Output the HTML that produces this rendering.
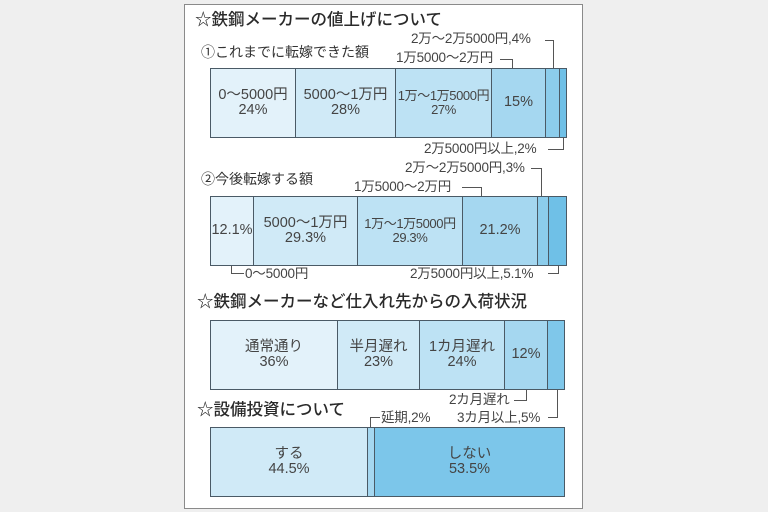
<!DOCTYPE html>
<html><head><meta charset="utf-8"><style>
body{margin:0;width:768px;height:512px;background:#efefef;position:relative;overflow:hidden;font-family:"Liberation Sans","Noto Sans CJK JP",sans-serif;color:#333}
.panel{position:absolute;left:184px;top:4px;width:397px;height:503px;background:#fff;border:1px solid #8a8a8a}
.t{position:absolute;white-space:nowrap;line-height:1}
.h{font-size:16.5px;color:#2a2a2a;font-weight:500}
.s{font-size:14px;color:#333}
.l{font-size:13.5px;color:#444;letter-spacing:-0.2px}
.seg{position:absolute;border:1px solid #4a5a66;box-sizing:border-box;display:flex;align-items:center;justify-content:center;text-align:center;font-size:14.5px;line-height:1.05;color:#444}
.ln{position:absolute;background:#555}
</style></head><body>
<div class="panel"></div>

<div class="t h" style="left:195px;top:12px">☆鉄鋼メーカーの値上げについて</div>
<div class="t s" style="left:201px;top:45px">①これまでに転嫁できた額</div>
<div class="t l" style="left:411px;top:32px">2万～2万5000円,4%</div>
<div class="t l" style="left:396px;top:51px">1万5000～2万円</div>
<div class="ln" style="left:545px;top:40px;width:8px;height:1px"></div>
<div class="ln" style="left:553px;top:40px;width:1px;height:28px"></div>
<div class="ln" style="left:500px;top:59px;width:12px;height:1px"></div>
<div class="ln" style="left:512px;top:59px;width:1px;height:9px"></div>

<div class="seg" style="left:210px;top:68px;width:86px;height:70px;background:#e3f2fa">0～5000円<br>24%</div>
<div class="seg" style="left:295px;top:68px;width:101px;height:70px;background:#d0eaf7">5000～1万円<br>28%</div>
<div class="seg" style="left:395px;top:68px;width:97px;height:70px;background:#bde2f4;font-size:13px;letter-spacing:-0.4px">1万～1万5000円<br>27%</div>
<div class="seg" style="left:491px;top:68px;width:55px;height:70px;background:#a5d7f0">15%</div>
<div class="seg" style="left:545px;top:68px;width:15px;height:70px;background:#8ccdec"></div>
<div class="seg" style="left:559px;top:68px;width:8px;height:70px;background:#6fc0e7"></div>
<div class="t l" style="left:424px;top:142px">2万5000円以上,2%</div>
<div class="ln" style="left:548px;top:149px;width:16px;height:1px"></div>
<div class="ln" style="left:563px;top:138px;width:1px;height:12px"></div>

<div class="t s" style="left:201px;top:172px">②今後転嫁する額</div>
<div class="t l" style="left:405px;top:161px">2万～2万5000円,3%</div>
<div class="t l" style="left:354px;top:180px">1万5000～2万円</div>
<div class="ln" style="left:531px;top:168px;width:10px;height:1px"></div>
<div class="ln" style="left:541px;top:168px;width:1px;height:28px"></div>
<div class="ln" style="left:462px;top:187px;width:20px;height:1px"></div>
<div class="ln" style="left:481px;top:187px;width:1px;height:9px"></div>

<div class="seg" style="left:210px;top:196px;width:44px;height:70px;background:#e3f2fa">12.1%</div>
<div class="seg" style="left:253px;top:196px;width:105px;height:70px;background:#d0eaf7">5000～1万円<br>29.3%</div>
<div class="seg" style="left:357px;top:196px;width:106px;height:70px;background:#bde2f4;font-size:13px;letter-spacing:-0.4px">1万～1万5000円<br>29.3%</div>
<div class="seg" style="left:462px;top:196px;width:76px;height:70px;background:#a5d7f0">21.2%</div>
<div class="seg" style="left:537px;top:196px;width:12px;height:70px;background:#8ccdec"></div>
<div class="seg" style="left:548px;top:196px;width:19px;height:70px;background:#6fc0e7"></div>
<div class="t l" style="left:245px;top:267px">0～5000円</div>
<div class="ln" style="left:231px;top:266px;width:1px;height:8px"></div>
<div class="ln" style="left:231px;top:273px;width:13px;height:1px"></div>
<div class="t l" style="left:410px;top:267px">2万5000円以上,5.1%</div>
<div class="ln" style="left:548px;top:273px;width:11px;height:1px"></div>
<div class="ln" style="left:558px;top:266px;width:1px;height:8px"></div>

<div class="t h" style="left:197px;top:294px">☆鉄鋼メーカーなど仕入れ先からの入荷状況</div>
<div class="seg" style="left:210px;top:320px;width:128px;height:70px;background:#e3f2fa">通常通り<br>36%</div>
<div class="seg" style="left:337px;top:320px;width:83px;height:70px;background:#d0eaf7">半月遅れ<br>23%</div>
<div class="seg" style="left:419px;top:320px;width:86px;height:70px;background:#bde2f4">1カ月遅れ<br>24%</div>
<div class="seg" style="left:504px;top:320px;width:44px;height:70px;background:#a5d7f0">12%</div>
<div class="seg" style="left:547px;top:320px;width:18px;height:70px;background:#7fc7ea"></div>
<div class="t l" style="left:449px;top:393px">2カ月遅れ</div>
<div class="ln" style="left:514px;top:400px;width:13px;height:1px"></div>
<div class="ln" style="left:526px;top:390px;width:1px;height:11px"></div>
<div class="t l" style="left:457px;top:411px">3カ月以上,5%</div>
<div class="ln" style="left:548px;top:417px;width:10px;height:1px"></div>
<div class="ln" style="left:557px;top:390px;width:1px;height:28px"></div>

<div class="t h" style="left:197px;top:402px">☆設備投資について</div>
<div class="t l" style="left:381px;top:411px">延期,2%</div>
<div class="ln" style="left:370px;top:417px;width:10px;height:1px"></div>
<div class="ln" style="left:370px;top:417px;width:1px;height:10px"></div>
<div class="seg" style="left:210px;top:427px;width:158px;height:70px;background:#d0eaf7">する<br>44.5%</div>
<div class="seg" style="left:367px;top:427px;width:8px;height:70px;background:#a5d7f0"></div>
<div class="seg" style="left:374px;top:427px;width:191px;height:70px;background:#7cc6ea">しない<br>53.5%</div>
</body></html>
